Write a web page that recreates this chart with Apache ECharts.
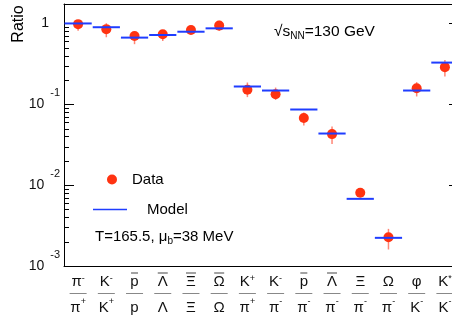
<!DOCTYPE html>
<html><head><meta charset="utf-8">
<script src="https://cdn.jsdelivr.net/npm/echarts@6/dist/echarts.min.js"></script>
<style>html,body{margin:0;padding:0;background:#fff;overflow:hidden}#c{width:452px;height:315px}</style>
</head><body><div id="c"></div>
<script>
// '~' = overbar, '^' = superscript
const numerators   = ['π^-','K^-','~p','~Λ','~Ξ','~Ω','K^+','K^-','~p','~Λ','Ξ','Ω','φ','K^*'];
const denominators = ['π^+','K^+','p','Λ','Ξ','Ω','π^+','π^-','π^-','π^-','π^-','π^-','K^-','K^-'];
const categories = numerators.map((n, i) => n + '/' + denominators[i]);
const modelValues = [1.0, 0.898, 0.668, 0.72, 0.79, 0.87, 0.166, 0.148, 0.0862, 0.0435, 0.00677, 0.00223, 0.148, 0.328];
const dataValues  = [0.98, 0.85, 0.70, 0.735, 0.83, 0.94, 0.151, 0.133, 0.0676, 0.0428, 0.00805, 0.00227, 0.158, 0.288];
const errLow      = [0.815, 0.675, 0.554, 0.608, 0.79, 0.808, 0.1227, 0.1137, 0.0548, 0.0323, 0.0074, 0.0016, 0.125, 0.220];
const errHigh     = [1.105, 1.006, 0.792, 0.831, 0.87, 1.083, 0.186, 0.161, 0.0792, 0.0532, 0.0088, 0.00288, 0.188, 0.354];
const yMin = 0.001, yMax = 1.74;
const minorMultipliers = [2, 3, 4, 5, 6, 7, 8, 9];
const minorDecades = [0.001, 0.01, 0.1, 1];

const FF = 'Liberation Sans, Arial, Helvetica, sans-serif';
const BLUE = '#1f3dff', RED = '#ff3311';
const minorTicks = [];
minorDecades.forEach(d => minorMultipliers.forEach(m => { const v = d * m; if (v < yMax) minorTicks.push(v); }));

function part(s, kind) {
  const over = s[0] === '~';
  if (over) s = s.slice(1);
  const [base, sup] = s.split('^');
  return { over, base, str: '{' + kind + '|' + base + '}' + (sup ? '{' + kind + 's|' + sup + '}' : '') };
}

const chart = echarts.init(document.getElementById('c'), null, { renderer: 'canvas' });
const txt = '#111';
chart.setOption({
  animation: false,
  backgroundColor: '#fff',
  grid: { left: 64, top: 4, right: -7, bottom: 49, outerBoundsMode: 'none', containLabel: false },
  xAxis: [
    {
      type: 'category', data: categories, position: 'bottom',
      axisLine: { lineStyle: { color: '#000', width: 1 } },
      axisTick: { inside: true, length: 10, lineStyle: { color: '#000' } },
      splitLine: { show: false },
      axisLabel: {
        interval: 0, margin: 6, color: txt, fontFamily: FF,
        formatter: (v, i) => {
          const n = part(numerators[i], 'n'), d = part(denominators[i], 'd');
          const ob = n.over ? (n.base === 'p' ? '{obp| }' : '{obw| }') : '{obs| }';
          return ob + '\n' + n.str + '\n{bar| }\n' + d.str;
        },
        rich: {
          obp: { width: 7, height: 1, lineHeight: 2, backgroundColor: '#444' },
          obw: { width: 10, height: 1, lineHeight: 2, backgroundColor: '#444' },
          obs: { width: 1, height: 1, lineHeight: 2 },
          n: { fontSize: 15, lineHeight: 16, color: txt, fontFamily: FF },
          ns: { fontSize: 9, height: 9, lineHeight: 9, verticalAlign: 'top', color: txt, fontFamily: FF },
          bar: { width: 17, height: 1, lineHeight: 7, backgroundColor: '#888' },
          d: { fontSize: 15, lineHeight: 21, color: txt, fontFamily: FF },
          ds: { fontSize: 9, height: 9, lineHeight: 9, verticalAlign: 'top', color: txt, fontFamily: FF }
        }
      }
    },
    {
      type: 'category', data: categories, position: 'top',
      axisLine: { lineStyle: { color: '#000', width: 1 } },
      axisTick: { inside: true, length: 9, lineStyle: { color: '#000' } },
      axisLabel: { show: false }, splitLine: { show: false }
    }
  ],
  yAxis: [
    {
      type: 'log', logBase: 10, min: yMin, max: yMax, position: 'left',
      axisLine: { show: true, lineStyle: { color: '#000', width: 1 } },
      axisTick: { show: true, inside: true, length: 10, lineStyle: { color: '#000' } },
      splitLine: { show: false },
      axisLabel: {
        margin: 4, color: txt, fontFamily: FF,
        formatter: v => {
          const e = Math.log10(v), r = Math.round(e);
          if (Math.abs(e - r) > 1e-6) return '';
          if (r === 0) return '{one|1}';
          return '{m|10}{s|' + r + '}';
        },
        rich: {
          one: { fontSize: 14, lineHeight: 16, padding: [0, 11, 0, 0], color: txt, fontFamily: FF },
          m: { fontSize: 14, lineHeight: 34, color: txt, fontFamily: FF },
          s: { fontSize: 11, height: 11, lineHeight: 11, verticalAlign: 'top', padding: [0, 0, 0, 6], color: txt, fontFamily: FF }
        }
      }
    },
    {
      type: 'log', logBase: 10, min: yMin, max: yMax, position: 'right',
      axisLine: { show: true, lineStyle: { color: '#000', width: 1 } },
      axisTick: { show: true, inside: true, length: 10, lineStyle: { color: '#000' } },
      splitLine: { show: false },
      axisLabel: { show: false }
    }
  ],
  legend: [
    {
      data: [{ name: 'Data', icon: 'circle', itemStyle: { color: RED } }], left: 107, top: 172, padding: 0,
      itemWidth: 10, itemHeight: 10, selectedMode: false,
      textStyle: { fontSize: 15, color: '#000', fontFamily: FF, padding: [0, 0, 0, 10] }
    },
    {
      data: [{ name: 'Model', icon: 'rect', itemStyle: { color: BLUE, borderWidth: 0 } }], left: 93, top: 202, padding: 0,
      itemWidth: 34, itemHeight: 1.5, selectedMode: false,
      textStyle: { fontSize: 15, color: '#000', fontFamily: FF, padding: [0, 0, 0, 15] }
    }
  ],
  graphic: [
    { type: 'text', x: 19, y: 24, rotation: Math.PI / 2,
      style: { text: 'Ratio', font: '16px ' + FF, fill: '#000', align: 'center', verticalAlign: 'middle' } },
    { type: 'text', x: 274, y: 32,
      style: { text: '{a|√s}{sub|NN}{a|=130 GeV}', align: 'left', verticalAlign: 'middle', fill: '#000',
        rich: { a: { fontSize: 15.5, lineHeight: 18, fontFamily: FF, fill: '#000' },
                sub: { fontSize: 10, height: 10, lineHeight: 10, verticalAlign: 'bottom', fontFamily: FF, fill: '#000' } } } },
    { type: 'text', x: 95, y: 237,
      style: { text: '{a|T=165.5, μ}{sub|b}{a|=38 MeV}', align: 'left', verticalAlign: 'middle', fill: '#000',
        rich: { a: { fontSize: 15, lineHeight: 18, fontFamily: FF, fill: '#000' },
                sub: { fontSize: 10, height: 10, lineHeight: 10, verticalAlign: 'bottom', fontFamily: FF, fill: '#000' } } } }
  ],
  series: [
    {
      name: 'err', type: 'custom', silent: true, z: 2,
      data: dataValues.map((v, i) => [i, errLow[i], errHigh[i]]),
      renderItem: (p, api) => {
        const a = api.coord([api.value(0), api.value(1)]);
        const b = api.coord([api.value(0), api.value(2)]);
        return { type: 'line', shape: { x1: a[0], y1: a[1], x2: b[0], y2: b[1] }, style: { stroke: '#ff8676', lineWidth: 1.5 } };
      }
    },
    {
      name: 'Data', type: 'scatter', data: dataValues, symbol: 'circle', symbolSize: 10, z: 3,
      itemStyle: { color: RED, opacity: 1 }
    },
    {
      name: 'Model', type: 'custom', z: 4, itemStyle: { color: BLUE },
      data: modelValues.map((v, i) => [i, v]),
      renderItem: (p, api) => {
        const c = api.coord([api.value(0), api.value(1)]);
        const w = p.coordSys.width / categories.length;
        return { type: 'line', shape: { x1: c[0] - w / 2 + 0.5, y1: c[1], x2: c[0] + w / 2 - 0.5, y2: c[1] }, style: { stroke: BLUE, lineWidth: 2 } };
      }
    },
    {
      name: 'minor', type: 'custom', silent: true, z: 5, clip: false,
      data: minorTicks.map(v => [0, v]),
      renderItem: (p, api) => {
        const y = Math.round(api.coord([0, api.value(1)])[1]) + 0.5;
        const cs = p.coordSys;
        return { type: 'group', children: [
          { type: 'line', shape: { x1: cs.x, y1: y, x2: cs.x + 5, y2: y }, style: { stroke: '#000', lineWidth: 1 } },
          { type: 'line', shape: { x1: cs.x + cs.width - 5, y1: y, x2: cs.x + cs.width, y2: y }, style: { stroke: '#000', lineWidth: 1 } }
        ] };
      }
    }
  ]
});
</script></body></html>
